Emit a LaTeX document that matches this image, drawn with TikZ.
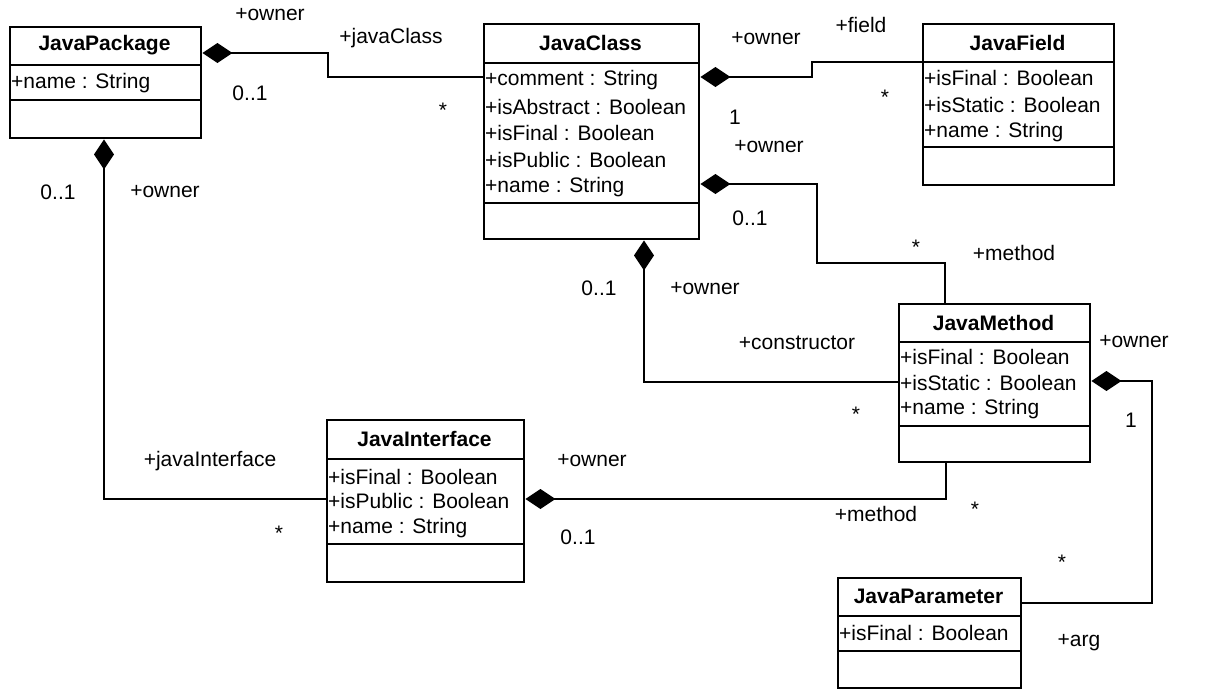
\documentclass[tikz,border=0pt]{standalone}
\usepackage{fontspec}
\setmainfont{Liberation Sans}
\usetikzlibrary{arrows.meta,calc}
\begin{document}
\begin{tikzpicture}[x=1pt,y=-1pt,
  every node/.style={font=\fontsize{21}{25}\selectfont, inner sep=0pt},
  classbox/.style={draw, line width=2.4pt, anchor=north west, inner sep=0pt},
  ctitle/.style={font=\fontsize{21}{25}\selectfont\bfseries},
  attr/.style={anchor=west},
  sepline/.style={line width=2.4pt},
  comp/.style={line width=2.2pt, {Diamond[length=30pt,width=20pt]}-},
  lbl/.style={}
]
\useasboundingbox (0,0) rectangle (1208,689);

% ---------- JavaPackage ----------
\node[classbox, minimum width=191pt, minimum height=111pt] (pkg) at (9,26) {};
\draw[sepline] (pkg.west |- 0,65) -- (pkg.east |- 0,65);
\draw[sepline] (pkg.west |- 0,100) -- (pkg.east |- 0,100);
\node[ctitle] (pkgT) at (104.5,45.5) {JavaPackage};
\node[attr] (pkgA1) at (11,83) {+name : String};

% ---------- JavaClass ----------
\node[classbox, minimum width=215pt, minimum height=215pt] (cls) at (483,23) {};
\draw[sepline] (cls.west |- 0,63) -- (cls.east |- 0,63);
\draw[sepline] (cls.west |- 0,203) -- (cls.east |- 0,203);
\node[ctitle] (clsT) at (590.5,43) {JavaClass};
\node[attr] (clsA1) at (485,80) {+comment : String};
\node[attr] (clsA2) at (485,107) {+isAbstract : Boolean};
\node[attr] (clsA3) at (485,133) {+isFinal : Boolean};
\node[attr] (clsA4) at (485,160) {+isPublic : Boolean};
\node[attr] (clsA5) at (485,187) {+name : String};

% ---------- JavaField ----------
\node[classbox, minimum width=191pt, minimum height=161pt] (fld) at (922,23) {};
\draw[sepline] (fld.west |- 0,62) -- (fld.east |- 0,62);
\draw[sepline] (fld.west |- 0,147) -- (fld.east |- 0,147);
\node[ctitle] (fldT) at (1017.5,42.5) {JavaField};
\node[attr] (fldA1) at (924,78) {+isFinal : Boolean};
\node[attr] (fldA2) at (924,105) {+isStatic : Boolean};
\node[attr] (fldA3) at (924,132) {+name : String};

% ---------- JavaMethod ----------
\node[classbox, minimum width=191pt, minimum height=158pt] (mth) at (898,303) {};
\draw[sepline] (mth.west |- 0,342) -- (mth.east |- 0,342);
\draw[sepline] (mth.west |- 0,426) -- (mth.east |- 0,426);
\node[ctitle] (mthT) at (993.5,322.5) {JavaMethod};
\node[attr] (mthA1) at (900,357) {+isFinal : Boolean};
\node[attr] (mthA2) at (900,383) {+isStatic : Boolean};
\node[attr] (mthA3) at (900,409) {+name : String};

% ---------- JavaInterface ----------
\node[classbox, minimum width=197pt, minimum height=162pt] (itf) at (326,419) {};
\draw[sepline] (itf.west |- 0,459) -- (itf.east |- 0,459);
\draw[sepline] (itf.west |- 0,544) -- (itf.east |- 0,544);
\node[ctitle] (itfT) at (424.5,439) {JavaInterface};
\node[attr] (itfA1) at (328,477) {+isFinal : Boolean};
\node[attr] (itfA2) at (328,501) {+isPublic : Boolean};
\node[attr] (itfA3) at (328,528) {+name : String};

% ---------- JavaParameter ----------
\node[classbox, minimum width=183pt, minimum height=110pt] (par) at (837,577) {};
\draw[sepline] (par.west |- 0,616) -- (par.east |- 0,616);
\draw[sepline] (par.west |- 0,651) -- (par.east |- 0,651);
\node[ctitle] (parT) at (928.5,596.5) {JavaParameter};
\node[attr] (parA1) at (839,633) {+isFinal : Boolean};

% ---------- compositions ----------
\draw[comp] (pkg.east |- 0,53) -- (328,53) -- (328,77) -- (cls.west |- 0,77);
\draw[comp] (cls.east |- 0,77) -- (812,77) -- (812,62) -- (fld.west |- 0,62);
\draw[comp] (cls.east |- 0,184) -- (817,184) -- (817,263) -- (945,263) -- (mth.north -| 945,0);
\draw[comp] (cls.south -| 644,0) -- (644,382) -- (mth.west |- 0,382);
\draw[comp] (mth.east |- 0,381) -- (1152,381) -- (1152,603) -- (par.east |- 0,603);
\draw[comp] (itf.east |- 0,499) -- (946,499) -- (mth.south -| 946,0);
\draw[comp] (pkg.south -| 104,0) -- (104,499) -- (itf.west |- 0,499);

% ---------- role names and multiplicities ----------
\node[lbl] (l1) at (270,15) {+owner};
\node[lbl] (l2) at (391,38) {+javaClass};
\node[lbl] (l3) at (250,93) {0..1};
\node[lbl] (l4) at (443,110) {*};
\node[lbl] (l5) at (766,39) {+owner};
\node[lbl] (l6) at (861,25) {+field};
\node[lbl] (l7) at (885,97) {*};
\node[lbl] (l8) at (735,117) {1};
\node[lbl] (l9) at (769,147) {+owner};
\node[lbl] (l10) at (750,218) {0..1};
\node[lbl] (l11) at (916,247) {*};
\node[lbl] (l12) at (1014,253) {+method};
\node[lbl] (l13) at (599,288) {0..1};
\node[lbl] (l14) at (705,289) {+owner};
\node[lbl] (l15) at (797,343) {+constructor};
\node[lbl] (l16) at (856,414) {*};
\node[lbl] (l17) at (1134,342) {+owner};
\node[lbl] (l18) at (1131,420) {1};
\node[lbl] (l19) at (210,461) {+javaInterface};
\node[lbl] (l20) at (279,533) {*};
\node[lbl] (l21) at (592,461) {+owner};
\node[lbl] (l22) at (578,537) {0..1};
\node[lbl] (l23) at (876,514) {+method};
\node[lbl] (l24) at (975,509) {*};
\node[lbl] (l25) at (1062,562) {*};
\node[lbl] (l26) at (1079,643) {+arg};
\node[lbl] (l27) at (58,192) {0..1};
\node[lbl] (l28) at (165,192) {+owner};
\end{tikzpicture}
\end{document}
